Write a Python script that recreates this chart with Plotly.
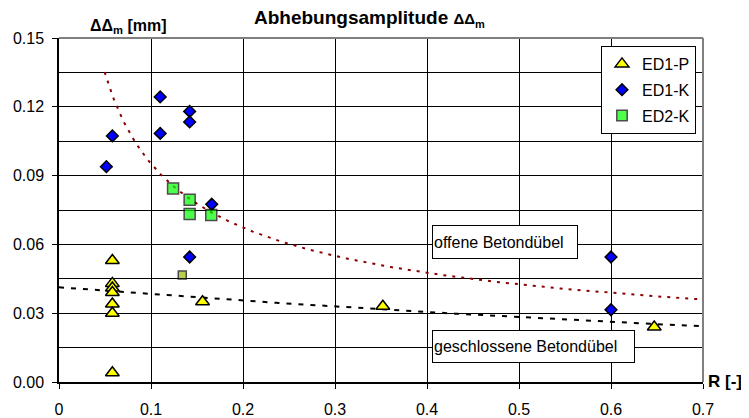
import numpy as np
import plotly.graph_objects as go

# ---------------- data ----------------
ed1p_x = [0.058, 0.058, 0.058, 0.058, 0.058, 0.058, 0.058, 0.156, 0.352, 0.647]
ed1p_y = [0.053, 0.043, 0.041, 0.039, 0.034, 0.030, 0.004, 0.035, 0.033, 0.024]

ed1k_x = [0.0515, 0.058, 0.110, 0.110, 0.142, 0.142, 0.142, 0.166, 0.600, 0.600]
ed1k_y = [0.0939, 0.1073, 0.1243, 0.1084, 0.1180, 0.1134, 0.0545, 0.0775, 0.0545, 0.0315]

ed2k_x = [0.124, 0.142, 0.142, 0.1655, 0.134]
ed2k_y = [0.0844, 0.0795, 0.0733, 0.0728, 0.0467]

# trend lines as shown in the chart (Excel trendlines)
# power trend (offene Betondübel): y = a * x^b
pow_a, pow_b, pow_x0, pow_x1 = 0.0301, -0.5, 0.0496, 0.70
# exponential trend (geschlossene Betondübel): y = a * exp(k x)
exp_a, exp_k, exp_x0, exp_x1 = 0.0413, -0.758, 0.0, 0.70

x_ticks = [0, 0.1, 0.2, 0.3, 0.4, 0.5, 0.6, 0.7]
y_ticks = [0.00, 0.03, 0.06, 0.09, 0.12, 0.15]

series_names = ["ED1-P", "ED1-K", "ED2-K"]
label_open = "offene Betondübel"
label_closed = "geschlossene Betondübel"
title_text = "Abhebungsamplitude"
y_label = "ΔΔ<sub>m</sub> [mm]"
x_label = "R [-]"

# ---------------- figure ----------------
OFF = 8                      # default page body margin
PAGE_W, PAGE_H = 749, 418
W, H = PAGE_W - OFF, PAGE_H - OFF
PL, PR, PT, PB = 59, 703, 38, 382   # plot area in page pixels
ML, MT = PL - OFF, PT - OFF
MR, MB = PAGE_W - PR, PAGE_H - PB
PW, PH = PR - PL, PB - PT
FONT = "Liberation Sans, Arial, sans-serif"


def px(xpix):
    return (xpix - PL) / PW


def py(ypix):
    return (PB - ypix) / PH


fig = go.Figure()

xp = np.linspace(pow_x0, pow_x1, 300)
fig.add_trace(go.Scatter(x=xp, y=pow_a * xp ** pow_b, mode="lines",
                         line=dict(color="#8B0000", width=2, dash="3px,6px"),
                         showlegend=False, hoverinfo="skip"))
xe = np.linspace(exp_x0, exp_x1, 300)
fig.add_trace(go.Scatter(x=xe, y=exp_a * np.exp(exp_k * xe), mode="lines",
                         line=dict(color="black", width=2, dash="5px,7px"),
                         showlegend=False, hoverinfo="skip"))

fig.add_trace(go.Scatter(x=ed1p_x, y=ed1p_y, mode="markers", name=series_names[0],
                         legendgroup="a",
                         marker=dict(symbol="triangle-up", size=12, color="#FFFF00",
                                     line=dict(color="black", width=1.5))))
fig.add_trace(go.Scatter(x=ed1k_x, y=ed1k_y, mode="markers", name=series_names[1],
                         legendgroup="b",
                         marker=dict(symbol="diamond", size=9, color="#0000FF",
                                     line=dict(color="black", width=1.5))))
fig.add_trace(go.Scatter(x=ed2k_x, y=ed2k_y, mode="markers", name=series_names[2],
                         legendgroup="c",
                         marker=dict(symbol="square", size=[11, 11, 11, 11, 8],
                                     color=["#00FF00"] * 4 + ["#99BB00"],
                                     line=dict(color="black", width=1.5))))

# border top/right (gray)
fig.add_shape(type="line", xref="paper", yref="paper", x0=0, x1=1, y0=1, y1=1,
              line=dict(color="#808080", width=2))
fig.add_shape(type="line", xref="paper", yref="paper", x0=1, x1=1, y0=0, y1=1,
              line=dict(color="#808080", width=2))

# text boxes
fig.add_annotation(x=0.405, y=0.0612, xref="x", yref="y", text=label_open,
                   showarrow=False, xanchor="left", yanchor="middle",
                   width=142, height=30, align="left", valign="middle",
                   bgcolor="white", bordercolor="black", borderwidth=1, borderpad=1,
                   font=dict(family=FONT, size=16, color="black"))
fig.add_annotation(x=0.405, y=0.0155, xref="x", yref="y", text=label_closed,
                   showarrow=False, xanchor="left", yanchor="middle",
                   width=199, height=29, align="left", valign="middle",
                   bgcolor="white", bordercolor="black", borderwidth=1, borderpad=1,
                   font=dict(family=FONT, size=16, color="black"))

# title
fig.add_annotation(x=px(252), y=py(19), xref="paper", yref="paper",
                   text="<b>" + title_text + " <span style='font-size:15px'>ΔΔ</span>"
                        "<sub><span style='font-size:11px'>m</span></sub></b>",
                   showarrow=False, xanchor="left", yanchor="middle",
                   font=dict(family=FONT, size=19, color="black"))
# y label
fig.add_annotation(x=px(88), y=py(27), xref="paper", yref="paper",
                   text="<b>" + y_label + "</b>", showarrow=False,
                   xanchor="left", yanchor="middle",
                   font=dict(family=FONT, size=16, color="black"))
# x label
fig.add_annotation(x=px(706), y=py(381), xref="paper", yref="paper",
                   text="<b>" + x_label + "</b>", showarrow=False,
                   xanchor="left", yanchor="middle",
                   font=dict(family=FONT, size=17, color="black"))

fig.update_layout(
    width=W, height=H,
    margin=dict(l=ML, r=MR, t=MT, b=MB, pad=0, autoexpand=False),
    paper_bgcolor="white", plot_bgcolor="white",
    font=dict(family=FONT, size=16, color="black"),
    showlegend=True,
    legend=dict(x=px(696), y=py(46), xanchor="right", yanchor="top",
                bgcolor="white", bordercolor="black", borderwidth=1,
                font=dict(family=FONT, size=16, color="black"),
                tracegroupgap=2, traceorder="grouped", itemwidth=30),
    xaxis=dict(range=[0, 0.7], tickvals=x_ticks, ticktext=[f"{v:g}" for v in x_ticks],
               automargin=False,
               showgrid=True, gridcolor="black", gridwidth=1, zeroline=False,
               showline=True, linecolor="black", linewidth=1.5,
               ticks="outside", ticklen=5, tickcolor="black", tickwidth=1,
               ticklabelstandoff=7, tickfont=dict(family=FONT, size=16)),
    yaxis=dict(range=[0, 0.15], tickvals=y_ticks, ticktext=[f"{v:.2f}" for v in y_ticks],
               automargin=False,
               showgrid=True, gridcolor="black", gridwidth=1, zeroline=False,
               showline=True, linecolor="black", linewidth=1.5,
               ticks="outside", ticklen=5, tickcolor="black", tickwidth=1,
               ticklabelstandoff=5, tickfont=dict(family=FONT, size=16),
               minor=dict(dtick=0.015, tick0=0, showgrid=True, gridcolor="black",
                          gridwidth=1, ticks="")),
)

fig.write_html("out.html")
